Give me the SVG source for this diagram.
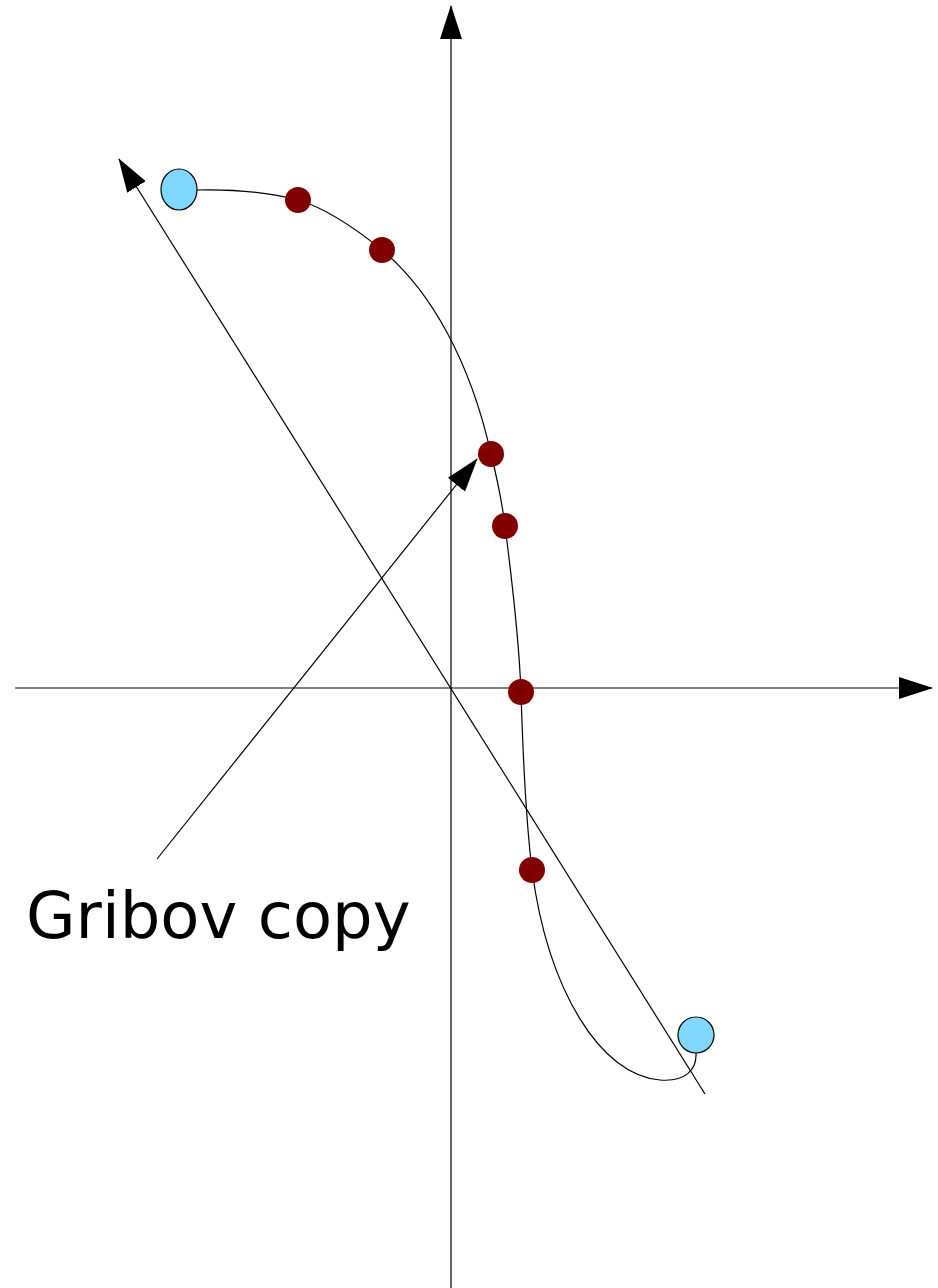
<svg xmlns="http://www.w3.org/2000/svg" width="938" height="1288" viewBox="0 0 938 1288">
<style>
.ln{stroke:#000;stroke-width:1.2;fill:none}
.blue{fill:#80d8ff;stroke:#000;stroke-width:1.2}
.red{fill:#800000;stroke:none}
.lbl{font-family:"DejaVu Sans",sans-serif;font-size:64px;fill:#000}
</style>
<defs>
<marker id="ah" markerUnits="userSpaceOnUse" markerWidth="34" markerHeight="22" refX="33" refY="11" orient="auto" viewBox="0 0 34 22">
<path d="M0,0 L34,11 L0,22 z" fill="#000"/>
</marker>
</defs>
<g id="connectors">
<line id="y-axis" class="ln" x1="451" y1="1288" x2="451" y2="6" marker-end="url(#ah)"/>
<line id="x-axis" class="ln" x1="15" y1="688" x2="932" y2="688" marker-end="url(#ah)"/>
<line id="diag-arrow" class="ln" x1="705" y1="1094" x2="119" y2="159" marker-end="url(#ah)"/>
<line id="label-arrow" class="ln" x1="157" y1="859" x2="477" y2="459" marker-end="url(#ah)"/>
<path id="curve" class="ln" d="M197,190 C240,189 275,194 298,200 C325,208 355,228 382,250 C430,290 470,360 491,454 C497,478 502,502 505,526 C512,580 519,640 521,692 C523,760 526,820 532,870 C548,990 600,1075 660,1080 C685,1082 697,1070 696,1053"/>
</g>
<g id="start-point"><ellipse class="blue" cx="179" cy="189.5" rx="18" ry="20.5"/></g>
<g id="end-point"><circle class="blue" cx="696" cy="1035" r="18"/></g>
<g id="p1"><circle class="red" cx="298" cy="200" r="13"/></g>
<g id="p2"><circle class="red" cx="382" cy="250" r="13"/></g>
<g id="p3"><circle class="red" cx="491" cy="454" r="13"/></g>
<g id="p4"><circle class="red" cx="505" cy="526" r="13"/></g>
<g id="p5"><circle class="red" cx="521" cy="692" r="13"/></g>
<g id="p6"><circle class="red" cx="532" cy="870" r="13"/></g>
<g id="label"><text class="lbl" x="26" y="938">Gribov copy</text></g>
</svg>
